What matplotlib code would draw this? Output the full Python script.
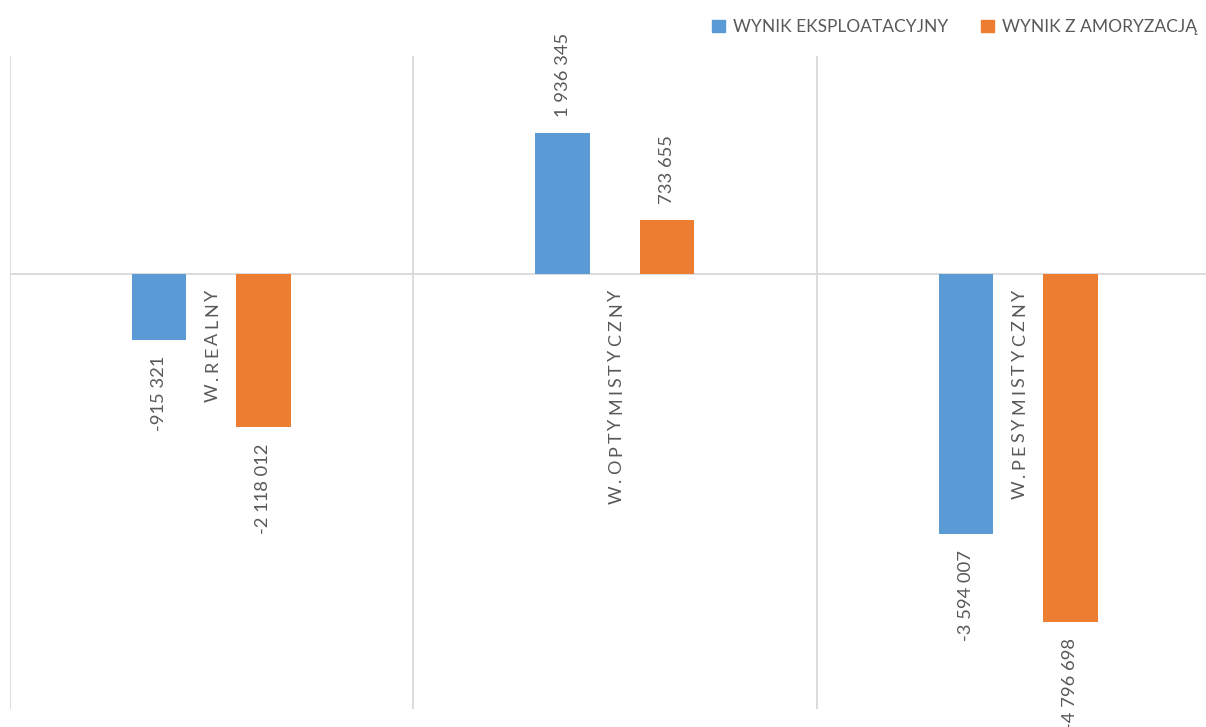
import matplotlib
matplotlib.use("Agg")
import matplotlib.pyplot as plt
from matplotlib.font_manager import FontProperties, findfont, get_font
import numpy as np

# Scenario results
categories = ["W.REALNY", "W.OPTYMISTYCZNY", "W.PESYMISTYCZNY"]
series_names = ["WYNIK EKSPLOATACYJNY", "WYNIK Z AMORYZACJĄ"]
wynik_eksploatacyjny = [-915321, 1936345, -3594007]
wynik_z_amoryzacja = [-2118012, 733655, -4796698]

colors = ["#5B9BD5", "#ED7D31"]
grid_color = "#D9D9D9"
text_color = "#595959"
FONT = ["Lato", "DejaVu Sans"]
FS_LEGEND = 12.5
FS_VALUE = 13.2
FS_CAT = 13.0

W, H, DPI = 1206, 727, 100
PX = 72.0 / DPI  # points per pixel
fig = plt.figure(figsize=(W / DPI, H / DPI), dpi=DPI)
fig.patch.set_facecolor("white")

# plot area (right edge runs slightly past the canvas)
left_px, right_px, top_px, bottom_px = 9.5, 1220, 56, 709
ax = fig.add_axes([left_px / W, 1 - bottom_px / H,
                   (right_px - left_px) / W, (bottom_px - top_px) / H])
ax.set_xlim(-0.5, len(categories) - 0.5)
ax.set_ylim(-6_000_000, 3_000_000)
ax.axis("off")


def fmt(v):
    s = f"{abs(v):,}".replace(",", " ")
    return ("-" if v < 0 else "") + s


# category separators and zero line
for b in np.arange(-0.5, len(categories) - 0.5 + 1e-9, 1.0):
    ax.axvline(b, color=grid_color, lw=1.3, zorder=0)
ax.axhline(0, color=grid_color, lw=1.3, zorder=1)

x = np.arange(len(categories))
bar_w = 0.135
offset = 0.129
for k, (vals, col) in enumerate(zip([wynik_eksploatacyjny, wynik_z_amoryzacja], colors)):
    xs = x + (-offset if k == 0 else offset)
    ax.bar(xs, vals, width=bar_w, color=col, zorder=2, label=series_names[k])
    for xi, v in zip(xs, vals):
        ax.annotate(fmt(v), xy=(xi, v), xytext=(0, 11.5 if v > 0 else -11.5),
                    textcoords="offset points", rotation=90,
                    ha="center", va="bottom" if v > 0 else "top",
                    fontsize=FS_VALUE, color=text_color, family=FONT,
                    annotation_clip=False)

# category names with letter spacing, hanging below the zero line
ft = get_font(findfont(FontProperties(family=FONT[0])))
ft.set_size(FS_CAT, DPI)


def metrics(ch):
    g = ft.load_char(ord(ch))
    # advance and left side bearing in pixels
    return g.linearHoriAdvance / 65536.0, g.horiBearingX / 64.0


tracking = 3.1      # extra pixels between letters
gap_below = 16.0    # pixels between zero line and end of the label
cap_half = 6.5      # half cap height in pixels, to centre the rotated glyphs
for xi, name in zip(x, categories):
    m = [metrics(ch) for ch in name]
    total = sum(a for a, _ in m) + tracking * (len(name) - 1)
    pos = -(gap_below + total)  # first letter sits at the bottom end
    for ch, (a, lsb) in zip(name, m):
        ax.annotate(ch, xy=(xi, 0), xytext=(cap_half * PX, (pos + lsb) * PX),
                    textcoords="offset points", rotation=90,
                    rotation_mode="anchor", ha="left", va="baseline",
                    fontsize=FS_CAT, color=text_color, family=FONT)
        pos += a + tracking

# legend
handles = [plt.Rectangle((0, 0), 1, 1, color=c) for c in colors]
fig.legend(handles, series_names, loc="upper right",
           bbox_to_anchor=(1.0, 1.0 - 10 / H),
           ncol=2, frameon=False, handlelength=0.75, handleheight=0.75,
           handletextpad=0.45, columnspacing=1.9,
           prop={"family": FONT, "size": FS_LEGEND}, labelcolor=text_color,
           borderaxespad=0.12)

fig.savefig("out.png", dpi=DPI, facecolor="white")
